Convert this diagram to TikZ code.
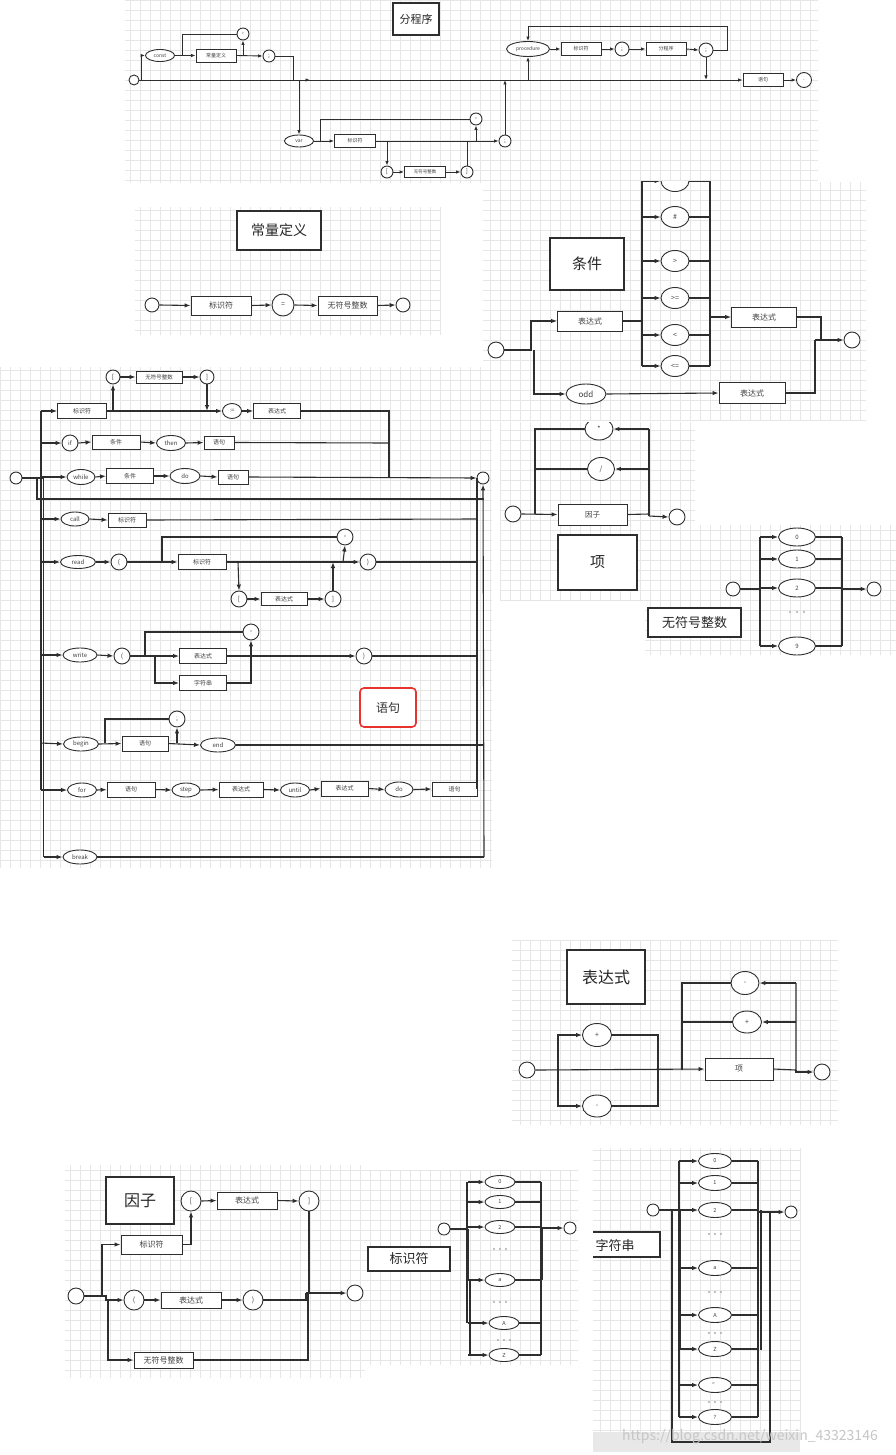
\documentclass[tikz,border=0pt]{standalone}
\usepackage{fontspec}
\setmainfont{Noto Sans CJK SC}
\usetikzlibrary{shapes.geometric,arrows.meta}
\definecolor{ln}{HTML}{2E2E2E}
\definecolor{gridc}{HTML}{E6E6E6}
\definecolor{redb}{HTML}{E8322D}
\newcommand\myfs[1]{\fontsize{#1}{#1}\selectfont}
\begin{document}
\begin{tikzpicture}[x=1pt,y=-1pt,
  lnk/.style={draw=ln, line width=1.1pt},
  slnk/.style={draw=ln, line width=0.9pt},
  thk/.style={draw=ln, line width=1.8pt},
  arr/.style={draw=ln, line width=1.1pt, -{Latex[length=6pt,width=4.5pt]}},
  sarr/.style={draw=ln, line width=0.9pt, -{Latex[length=4.5pt,width=3.5pt]}},
  bx/.style={draw=ln, line width=0.9pt, fill=white, rectangle, inner sep=0pt, text=black!75},
  el/.style={draw=ln, line width=0.9pt, fill=white, ellipse, inner sep=0pt, text=black!75},
  ci/.style={draw=ln, line width=0.9pt, fill=white, circle, inner sep=0pt, text=black!75},
  ttl/.style={draw=ln, line width=1.1pt, fill=white, rectangle, inner sep=0pt, text=black!85},
  sz/.style 2 args={minimum width=#1pt, minimum height=#2pt},
  grd/.style={draw=gridc, line width=0.4pt, step=10pt}]
\useasboundingbox (0,0) rectangle (896,1455);
\fill[white] (0,0) rectangle (896,1455);
% ---------- grids ----------
\draw[grd] (125,183) grid (818,0);
\draw[grd] (135,335) grid (440,207);
\draw[grd] (483,420) grid (866,182);
\draw[grd] (0,868) grid (492,367);
\draw[grd] (500,525) grid (695,422);
\draw[grd] (500,600) grid (645,525);
\draw[grd] (645,655) grid (896,525);
\draw[grd] (512,1125) grid (838,940);
\draw[grd] (65,1378) grid (365,1165);
\draw[grd] (365,1365) grid (578,1170);
\draw[grd] (593,1432) grid (800,1148);

% ================= Panel 1 : 分程序 =================
\node[ttl, sz={46}{32}, font=\myfs{11}] (t1) at (416,19) {分程序};
\node[ci, minimum size=10pt] (s1) at (134,80) {};
\node[el, sz={29}{12}, font=\myfs{5}] (pconst) at (160,55.5) {const};
\node[bx, sz={40}{13}, font=\myfs{5}] (pcd) at (216,55.5) {常量定义};
\node[ci, minimum size=12pt, font=\myfs{6}] (pcm1) at (243,34) {,};
\node[ci, minimum size=12pt, font=\myfs{6}] (psm1) at (269,56) {;};
\node[el, sz={29}{12}, font=\myfs{5}] (pvar) at (299,141) {var};
\node[bx, sz={41}{13}, font=\myfs{5}] (pid1) at (355,141) {标识符};
\node[ci, minimum size=12pt, font=\myfs{6}] (pcm2) at (476,119) {,};
\node[ci, minimum size=12pt, font=\myfs{6}] (psm2) at (505,141) {;};
\node[ci, minimum size=12pt, font=\myfs{6}] (plb1) at (387,172) {[};
\node[bx, sz={41}{11}, font=\myfs{4.5}] (pui1) at (425,172) {无符号整数};
\node[ci, minimum size=12pt, font=\myfs{6}] (prb1) at (467,172) {]};
\node[el, sz={43}{15}, font=\myfs{5}] (pproc) at (528,49) {procedure};
\node[bx, sz={40}{13}, font=\myfs{5}] (pid2) at (581,49) {标识符};
\node[ci, minimum size=14pt, font=\myfs{6}] (psm3) at (622,49) {;};
\node[bx, sz={40}{13}, font=\myfs{5}] (pblk) at (666,49) {分程序};
\node[ci, minimum size=14pt, font=\myfs{6}] (psm4) at (706,50) {;};
\node[bx, sz={40}{13}, font=\myfs{5}] (pst) at (763,80) {语句};
\node[ci, minimum size=15pt, font=\myfs{6}] (pdot) at (804,80) {.};
\draw[sarr] (s1.east) -- (pst.west);
\draw[sarr] (300,80) -- (310,80);
\draw[sarr] (141,80) |- (pconst.west);
\draw[sarr] (pconst.east) -- (pcd.west);
\draw[slnk] (182,55.5) |- (pcm1.west);
\draw[sarr] (pcd.east) -- (psm1.west);
\draw[sarr] (243,55.5) -- (pcm1.south);
\draw[slnk] (psm1.east) -| (293,80);
\draw[sarr] (299,80) -- (pvar.north);
\draw[sarr] (pvar.east) -- (pid1.west);
\draw[slnk] (320,141) |- (pcm2.west);
\draw[sarr] (pid1.east) -- (psm2.west);
\draw[sarr] (476,141) -- (pcm2.south);
\draw[sarr] (387,141) -- (plb1.north);
\draw[sarr] (plb1.east) -- (pui1.west);
\draw[sarr] (pui1.east) -- (prb1.west);
\draw[slnk] (prb1.north) -- (467,141);
\draw[sarr] (psm2.north) -- (505,80);
\draw[sarr] (528,80) -- (pproc.south);
\draw[sarr] (pproc.east) -- (pid2.west);
\draw[sarr] (pid2.east) -- (psm3.west);
\draw[sarr] (psm3.east) -- (pblk.west);
\draw[sarr] (pblk.east) -- (psm4.west);
\draw[sarr] (psm4.east) -| (727,26) -| (pproc.north);
\draw[sarr] (psm4.south) -- (706,80);
\draw[sarr] (pst.east) -- (pdot.west);

% ================= Panel 2 : 常量定义 =================
\node[ttl, sz={84}{39}, font=\myfs{14}] (t2) at (279,230.5) {常量定义};
\node[ci, minimum size=14pt] (s2) at (152,305) {};
\node[bx, sz={60}{19}, font=\myfs{8}] (cid) at (221,305.5) {标识符};
\node[ci, minimum size=22pt, font=\myfs{7}] (ceq) at (283,305) {=};
\node[bx, sz={59}{19}, font=\myfs{8}] (cui) at (347.5,305.5) {无符号整数};
\node[ci, minimum size=14pt] (e2) at (403,305) {};
\draw[arr] (s2.east) -- (cid.west);
\draw[arr] (cid.east) -- (ceq.west);
\draw[arr] (ceq.east) -- (cui.west);
\draw[arr] (cui.east) -- (e2.west);

% ================= Panel 3 : 条件 =================
\begin{scope}
\clip (483,182) rectangle (866,420);
\node[ttl, sz={74}{52}, font=\myfs{15}] (t3) at (587,264) {条件};
\node[ci, minimum size=16pt] (s3) at (496,350) {};
\node[bx, sz={65}{20}, font=\myfs{8}] (dex1) at (590,321) {表达式};
\node[el, sz={40}{20}, font=\myfs{8}] (dodd) at (586,394) {odd};
\node[bx, sz={66}{21}, font=\myfs{8}] (dex2) at (752,393) {表达式};
\node[bx, sz={65}{20}, font=\myfs{8}] (dex3) at (764,317) {表达式};
\node[ci, minimum size=16pt] (e3) at (852,340) {};
\node[el, sz={28}{21}, font=\myfs{7}] (deq) at (675,181) {=};
\node[el, sz={28}{21}, font=\myfs{7}] (dne) at (675,217) {\#};
\node[el, sz={28}{21}, font=\myfs{7}] (dgt) at (675,261) {>};
\node[el, sz={28}{21}, font=\myfs{7}] (dge) at (675,298) {>=};
\node[el, sz={28}{21}, font=\myfs{7}] (dlt) at (675,335) {<};
\node[el, sz={28}{21}, font=\myfs{7}] (dle) at (675,366) {<=};
\draw[arr] (s3.east) -| (531,321) -- (dex1.west);
\draw[arr] (534,350) |- (dodd.west);
\draw[arr] (dodd.east) -- (dex2.west);
\draw[thk] (dex1.east) -- (642,321);
\draw[thk] (642,170) -- (642,366);
\draw[thk] (710,170) -- (710,366);
\foreach \n/\yy in {deq/181,dne/217,dgt/261,dge/298,dlt/335,dle/366}{
  \draw[arr] (642,\yy) -- (\n.west);
  \draw[lnk] (\n.east) -- (710,\yy);
}
\draw[arr] (710,317) -- (dex3.west);
\draw[lnk] (dex3.east) -| (821,340);
\draw[lnk] (dex2.east) -| (815,340);
\draw[arr] (815,340) -- (e3.west);
\end{scope}

% ================= Panel 4 : 语句 =================
\node[ci, minimum size=12pt] (s4) at (16,478) {};
\node[ci, minimum size=12pt] (e4) at (483,478) {};
\node[bx, sz={49}{15}, font=\myfs{6}] (yid1) at (82,411) {标识符};
\node[ci, minimum size=14pt, font=\myfs{6.5}] (ylb1) at (113,377) {[};
\node[bx, sz={46}{12}, font=\myfs{5.5}] (yui) at (159,377) {无符号整数};
\node[ci, minimum size=14pt, font=\myfs{6.5}] (yrb1) at (207,377) {]};
\node[el, sz={19}{15}, font=\myfs{6}] (yasg) at (232,411) {:=};
\node[bx, sz={47}{15}, font=\myfs{6}] (yex1) at (277,411) {表达式};
\node[ci, minimum size=16pt, font=\myfs{6}] (yif) at (70,443) {if};
\node[bx, sz={48}{14}, font=\myfs{6}] (ycd1) at (116,442) {条件};
\node[el, sz={29}{15}, font=\myfs{6}] (ythen) at (171,443) {then};
\node[bx, sz={30}{13}, font=\myfs{6}] (yst1) at (219,442.5) {语句};
\node[el, sz={28}{15}, font=\myfs{6}] (ywhile) at (81,477) {while};
\node[bx, sz={47}{15}, font=\myfs{6}] (ycd2) at (130,476) {条件};
\node[el, sz={30}{15}, font=\myfs{6}] (ydo1) at (185,476) {do};
\node[bx, sz={30}{14}, font=\myfs{6}] (yst2) at (233,477) {语句};
\node[el, sz={28}{14}, font=\myfs{6}] (ycall) at (75,519) {call};
\node[bx, sz={38}{14}, font=\myfs{6}] (yid2) at (127,520) {标识符};
\node[el, sz={35}{13}, font=\myfs{6}] (yread) at (78,562) {read};
\node[ci, minimum size=16pt, font=\myfs{6.5}] (ylp1) at (119,562) {(};
\node[bx, sz={48}{15}, font=\myfs{6}] (yid3) at (202,562) {标识符};
\node[ci, minimum size=16pt, font=\myfs{6.5}] (ycm1) at (345,537) {,};
\node[ci, minimum size=16pt, font=\myfs{6.5}] (yrp1) at (368,562) {)};
\node[ci, minimum size=16pt, font=\myfs{6.5}] (ylb2) at (239,599) {[};
\node[bx, sz={46}{13}, font=\myfs{6}] (yex2) at (284,599) {表达式};
\node[ci, minimum size=16pt, font=\myfs{6.5}] (yrb2) at (333,599) {]};
\node[el, sz={34}{14}, font=\myfs{6}] (ywrite) at (80,655) {write};
\node[ci, minimum size=16pt, font=\myfs{6.5}] (ylp2) at (122,656) {(};
\node[ci, minimum size=16pt, font=\myfs{6.5}] (ycm2) at (251,632) {,};
\node[bx, sz={47}{15}, font=\myfs{6}] (yex3) at (203,656) {表达式};
\node[bx, sz={47}{15}, font=\myfs{6}] (ystr) at (203,683) {字符串};
\node[ci, minimum size=16pt, font=\myfs{6.5}] (yrp2) at (364,656) {)};
\node[draw=redb, line width=1.6pt, rounded corners=4pt, fill=white, sz={56}{39}, inner sep=0pt, font=\myfs{12}, text=black!80] (t4) at (388,707.5) {语句};
\node[el, sz={35}{14}, font=\myfs{6}] (ybegin) at (81,744) {begin};
\node[bx, sz={46}{15}, font=\myfs{6}] (yst3) at (145,743.5) {语句};
\node[ci, minimum size=16pt, font=\myfs{6.5}] (ysm) at (177,719) {;};
\node[el, sz={35}{14}, font=\myfs{6}] (yend) at (218,745) {end};
\node[el, sz={29}{14}, font=\myfs{6}] (yfor) at (82,790) {for};
\node[bx, sz={48}{15}, font=\myfs{6}] (yst4) at (131,789.5) {语句};
\node[el, sz={28}{14}, font=\myfs{6}] (ystep) at (186,790) {step};
\node[bx, sz={44}{15}, font=\myfs{6}] (yex4) at (241,789.5) {表达式};
\node[el, sz={29}{14}, font=\myfs{6}] (yuntil) at (295,790) {until};
\node[bx, sz={47}{15}, font=\myfs{6}] (yex5) at (344.5,788.5) {表达式};
\node[el, sz={28}{15}, font=\myfs{6}] (ydo2) at (399,789.5) {do};
\node[bx, sz={45}{14}, font=\myfs{6}] (yst5) at (454.5,789) {语句};
\node[el, sz={34}{14}, font=\myfs{6}] (ybreak) at (80,857) {break};
% buses
\draw[lnk] (s4.east) -- (43,478);
\draw[lnk] (37,478) -- (37,499) -- (484,499);
\draw[thk] (41,411) -- (41,790);
\draw[lnk] (43.5,478) -- (43.5,857);
\draw[thk] (477,478) -- (477,789);
\draw[arr] (484,857) -- (e4.south);
% row 1
\draw[arr] (41,411) -- (yid1.west);
\draw[arr] (yid1.east) -- (yasg.west);
\draw[arr] (113,411) -- (ylb1.south);
\draw[arr] (ylb1.east) -- (yui.west);
\draw[arr] (yui.east) -- (yrb1.west);
\draw[arr] (yrb1.south) -- (207,411);
\draw[arr] (yasg.east) -- (yex1.west);
\draw[thk] (yex1.east) -| (389,478);
% row if
\draw[arr] (41,443) -- (yif.west);
\draw[arr] (yif.east) -- (ycd1.west);
\draw[arr] (ycd1.east) -- (ythen.west);
\draw[arr] (ythen.east) -- (yst1.west);
\draw[lnk] (yst1.east) -- (389,443);
% row while
\draw[arr] (41,477) -- (ywhile.west);
\draw[arr] (ywhile.east) -- (ycd2.west);
\draw[arr] (ycd2.east) -- (ydo1.west);
\draw[arr] (ydo1.east) -- (yst2.west);
\draw[arr] (yst2.east) -- (e4.west);
% row call
\draw[arr] (41,519) -- (ycall.west);
\draw[arr] (ycall.east) -- (yid2.west);
\draw[lnk] (yid2.east) -- (477,519);
% row read
\draw[arr] (41,562) -- (yread.west);
\draw[arr] (yread.east) -- (ylp1.west);
\draw[arr] (ylp1.east) -- (yid3.west);
\draw[lnk] (162,562) |- (ycm1.west);
\draw[arr] (yid3.east) -- (yrp1.west);
\draw[arr] (343,562) -- (ycm1.south);
\draw[arr] (238,562) -- (ylb2.north);
\draw[arr] (ylb2.east) -- (yex2.west);
\draw[arr] (yex2.east) -- (yrb2.west);
\draw[arr] (yrb2.north) -- (333,562);
\draw[lnk] (yrp1.east) -- (477,562);
% row write
\draw[arr] (41,655) -- (ywrite.west);
\draw[arr] (ywrite.east) -- (ylp2.west);
\draw[lnk] (ylp2.east) -- (155,656);
\draw[lnk] (145,656) |- (ycm2.west);
\draw[arr] (155,656) -- (yex3.west);
\draw[arr] (155,656) |- (ystr.west);
\draw[arr] (yex3.east) -- (yrp2.west);
\draw[lnk] (ystr.east) -| (251,656);
\draw[arr] (251,656) -- (ycm2.south);
\draw[lnk] (yrp2.east) -- (477,656);
% row begin
\draw[arr] (41,743) -- (ybegin.west);
\draw[arr] (ybegin.east) -- (yst3.west);
\draw[lnk] (105,743) |- (ysm.west);
\draw[arr] (yst3.east) -- (yend.west);
\draw[arr] (177,743) -- (ysm.south);
\draw[lnk] (yend.east) -- (484,745);
% row for
\draw[arr] (41,790) -- (yfor.west);
\draw[arr] (yfor.east) -- (yst4.west);
\draw[arr] (yst4.east) -- (ystep.west);
\draw[arr] (ystep.east) -- (yex4.west);
\draw[arr] (yex4.east) -- (yuntil.west);
\draw[arr] (yuntil.east) -- (yex5.west);
\draw[arr] (yex5.east) -- (ydo2.west);
\draw[arr] (ydo2.east) -- (yst5.west);
% row break
\draw[arr] (43.5,857) -- (ybreak.west);
\draw[lnk] (ybreak.east) -- (484,857);

% ================= Panel 5 : 项 =================
\begin{scope}
\clip (500,422) rectangle (695,525);
\node[el, sz={28}{22}, font=\myfs{7}] (xmul) at (599,429) {*};
\node[el, sz={27}{23}, font=\myfs{7}] (xdiv) at (601,469) {/};
\node[bx, sz={69}{21}, font=\myfs{7.5}] (xfac) at (592.5,514.5) {因子};
\node[ci, minimum size=16pt] (s5) at (513,514) {};
\node[ci, minimum size=16pt] (e5) at (677,517) {};
\draw[arr] (s5.east) -- (xfac.west);
\draw[lnk] (535,514) -- (535,429) -- (xmul.west);
\draw[lnk] (xdiv.west) -- (535,469);
\draw[lnk] (xfac.east) -- (649,514);
\draw[arr] (649,516) -- (e5.west);
\draw[lnk] (649,516) -- (649,429);
\draw[arr] (649,429) -- (xmul.east);
\draw[arr] (649,469) -- (xdiv.east);
\end{scope}
\node[ttl, sz={79}{55}, font=\myfs{15}] (t5) at (597.5,562.5) {项};

% ================= Panel 6 : 无符号整数 =================
\begin{scope}
\clip (645,525) rectangle (896,655);
\node[ttl, sz={93}{29}, font=\myfs{13}] (t6) at (694.5,622.5) {无符号整数};
\node[ci, minimum size=14pt] (s6) at (733,589) {};
\node[ci, minimum size=14pt] (e6) at (874,589) {};
\foreach \n/\lab/\yy in {u0/0/537,u1/1/559,u2/2/588,u9/9/646}{
  \node[el, sz={37}{18}, font=\myfs{6}] (\n) at (797,\yy) {\lab};
  \draw[arr] (760,\yy) -- (\n.west);
  \draw[lnk] (\n.east) -- (842,\yy);
}
\foreach \dx in {-7,0,7} \draw[gray!70] (797+\dx,612) circle (0.9);
\draw[lnk] (s6.east) -- (760,589);
\draw[lnk] (760,537) -- (760,646);
\draw[lnk] (842,537) -- (842,646);
\draw[arr] (842,589) -- (e6.west);
\end{scope}

% ================= Panel 7 : 表达式 =================
\node[ttl, sz={78}{54}, font=\myfs{16}] (t7) at (606,977) {表达式};
\node[ci, minimum size=16pt] (s7) at (527,1070) {};
\node[ci, minimum size=16pt] (e7) at (822,1072) {};
\node[el, sz={29}{23}, font=\myfs{7}] (bp1) at (597,1035) {+};
\node[el, sz={29}{22}, font=\myfs{7}] (bm1) at (597,1106) {-};
\node[bx, sz={68}{22}, font=\myfs{8}] (bterm) at (739,1069) {项};
\node[el, sz={28}{23}, font=\myfs{7}] (bm2) at (745,983) {-};
\node[el, sz={29}{22}, font=\myfs{7}] (bp2) at (747,1022) {+};
\draw[arr] (s7.east) -- (bterm.west);
\draw[arr] (558,1070) |- (bp1.west);
\draw[arr] (558,1070) |- (bm1.west);
\draw[lnk] (bp1.east) -| (658,1070);
\draw[lnk] (bm1.east) -| (658,1070);
\draw[lnk] (682,1070) -- (682,983) -- (bm2.west);
\draw[lnk] (bp2.west) -- (682,1022);
\draw[lnk] (bterm.east) -- (796,1070) -- (796,983);
\draw[arr] (796,983) -- (bm2.east);
\draw[arr] (796,1022) -- (bp2.east);
\draw[arr] (796,1070) |- (e7.west);

% ================= Panel 8 : 因子 =================
\node[ttl, sz={68}{47}, font=\myfs{16}] (t8) at (140,1200.5) {因子};
\node[ci, minimum size=16pt] (s8) at (76,1296) {};
\node[ci, minimum size=16pt] (e8) at (355,1293) {};
\node[bx, sz={61}{19}, font=\myfs{8}] (fid) at (151.5,1244.5) {标识符};
\node[ci, minimum size=20pt, font=\myfs{7}] (flb) at (191,1201) {[};
\node[bx, sz={60}{17}, font=\myfs{8}] (fex1) at (247,1200.5) {表达式};
\node[ci, minimum size=20pt, font=\myfs{7}] (frb) at (309,1201) {]};
\node[ci, minimum size=20pt, font=\myfs{7}] (flp) at (134,1300) {(};
\node[bx, sz={60}{16}, font=\myfs{8}] (fex2) at (191,1300) {表达式};
\node[ci, minimum size=20pt, font=\myfs{7}] (frp) at (253,1300) {)};
\node[bx, sz={59}{16}, font=\myfs{8}] (fui) at (163.5,1360) {无符号整数};
\draw[arr] (102,1296) |- (fid.west);
\draw[arr] (s8.east) -| (106,1300) -- (flp.west);
\draw[arr] (108,1300) |- (fui.west);
\draw[arr] (fid.east) -| (flb.south);
\draw[arr] (flb.east) -- (fex1.west);
\draw[arr] (fex1.east) -- (frb.west);
\draw[lnk] (frb.south) -- (309,1293);
\draw[arr] (flp.east) -- (fex2.west);
\draw[arr] (fex2.east) -- (frp.west);
\draw[lnk] (frp.east) -- (306,1300) -- (306,1293);
\draw[lnk] (fui.east) -| (308,1293);
\draw[arr] (306,1293) -- (e8.west);

% ================= Panel 9 : 标识符 =================
\node[ttl, sz={82}{24}, font=\myfs{13}] (t9) at (409,1259) {标识符};
\node[ci, minimum size=12pt] (s9) at (444,1229) {};
\node[ci, minimum size=12pt] (e9) at (570,1228) {};
\foreach \n/\lab/\xx/\yy in {i0/0/500/1182,i1/1/500/1202,i2/2/500/1227,ia/a/500/1280,iA/A/504/1323,iZ/Z/504/1355}{
  \node[el, sz={30}{13}, font=\myfs{5.5}] (\n) at (\xx,\yy) {\lab};
  \draw[arr] (468,\yy) -- (\n.west);
  \draw[lnk] (\n.east) -- (541,\yy);
}
\foreach \yy/\xx in {1249/500,1302/500,1340/504}
  \foreach \dx in {-6,0,6} \draw[gray!70] (\xx+\dx,\yy) circle (0.8);
\draw[lnk] (s9.east) -- (468,1229);
\draw[lnk] (467,1182) -- (467,1323);
\draw[thk] (468,1229) -- (468,1280);
\draw[lnk] (470,1280) -- (470,1355);
\draw[lnk] (541,1182) -- (541,1355);
\draw[thk] (542,1227) -- (542,1280);
\draw[arr] (541,1228) -- (e9.west);

% ================= Panel 10 : 字符串 =================
\begin{scope}
\clip (593,1148) rectangle (800,1432);
\draw[draw=ln, line width=1.1pt, fill=white] (588,1232) rectangle (660,1257);
\end{scope}
\node[font=\myfs{13}, text=black!85, inner sep=0pt] (t10) at (615,1245) {字符串};
\node[ci, minimum size=12pt] (s10) at (653,1210) {};
\node[ci, minimum size=12pt] (e10) at (791,1212) {};
\foreach \n/\lab/\yy in {c0/0/1161,c1/1/1183,c2/2/1210,ca/a/1268,cA/A/1315,cZ/Z/1349,cq/"/1385,cx/?/1417}{
  \node[el, sz={33}{15}, font=\myfs{5.5}] (\n) at (715,\yy) {\lab};
  \draw[arr] (679,\yy) -- (\n.west);
  \draw[lnk] (\n.east) -- (758,\yy);
}
\foreach \yy in {1234,1292,1333,1402}
  \foreach \dx in {-6,0,6} \draw[gray!70] (715+\dx,\yy) circle (0.8);
\draw[lnk] (s10.east) -- (679,1210);
\draw[lnk] (679,1161) -- (679,1417);
\draw[thk] (680,1210) -- (680,1349);
\draw[lnk] (758,1161) -- (758,1417);
\draw[thk] (761,1210) -- (761,1350);
\draw[lnk] (672,1210) -- (672,1442) -- (770,1442) -- (770,1212);
\draw[arr] (758,1212) -- (e10.west);
\fill[gray!18] (593,1432) rectangle (800,1452);
\draw[lnk] (672,1432) -- (672,1442) -- (770,1442) -- (770,1432);
\node[font=\myfs{14}, text=gray!45, inner sep=0pt] (wm) at (750,1437) {https://blog.csdn.net/weixin\_43323146};
\end{tikzpicture}
\end{document}
